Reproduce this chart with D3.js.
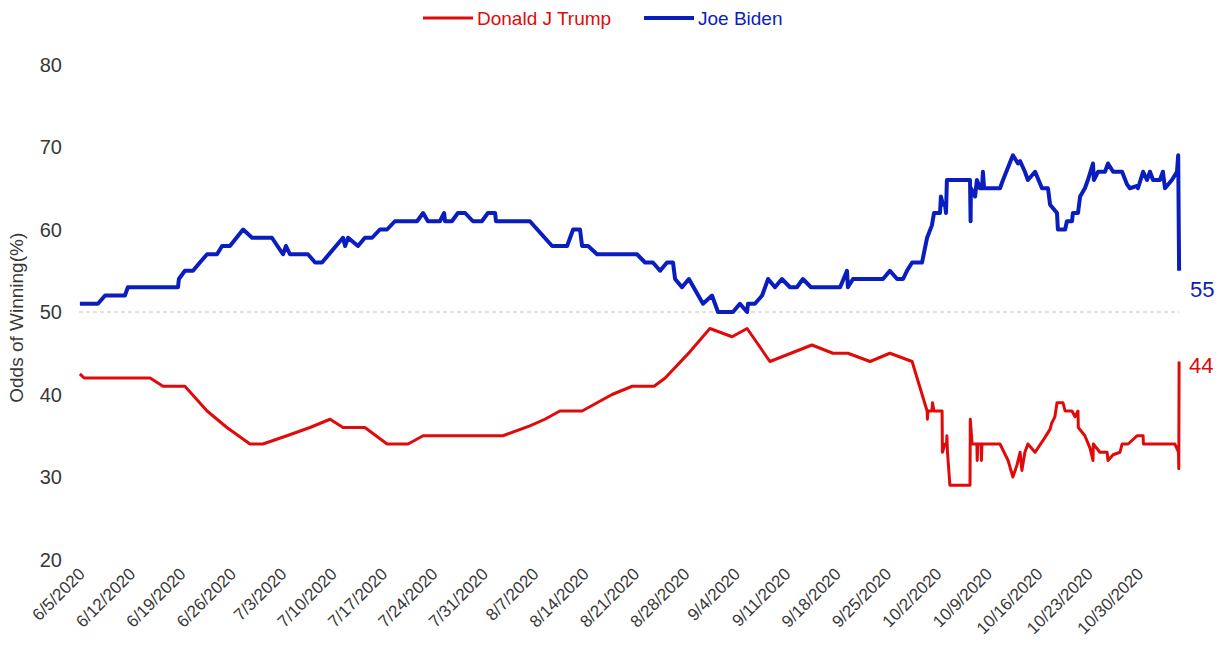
<!DOCTYPE html>
<html>
<head>
<meta charset="utf-8">
<script src="https://cdn.jsdelivr.net/npm/d3@7"></script>
<style>
  html, body { margin: 0; padding: 0; background: #fff; }
  svg { display: block; font-family: "Liberation Sans", Arial, sans-serif; }
</style>
</head>
<body>
<svg id="chart" width="1225" height="656"></svg>
<script>
// ---------------- DATA ----------------
const seriesNames = ["Donald J Trump", "Joe Biden"];
const seriesColors = ["#e00a0a", "#0a1ec0"];

const xTickLabels = ["6/5/2020","6/12/2020","6/19/2020","6/26/2020","7/3/2020","7/10/2020","7/17/2020",
  "7/24/2020","7/31/2020","8/7/2020","8/14/2020","8/21/2020","8/28/2020","9/4/2020","9/11/2020",
  "9/18/2020","9/25/2020","10/2/2020","10/9/2020","10/16/2020","10/23/2020","10/30/2020"];
const yTicks = [20, 30, 40, 50, 60, 70, 80];
const xDomain = ["6/5/2020", "11/5/2020"];
const yDomain = [20, 80];
const evenLine = 50;

const bidenTimes = [
  "2020-06-05 03","2020-06-07 15","2020-06-08 15","2020-06-11 09","2020-06-11 19","2020-06-18 18","2020-06-18 21","2020-06-19 17",
  "2020-06-20 20","2020-06-21 19","2020-06-22 19","2020-06-24 04","2020-06-24 21","2020-06-25 23","2020-06-27 19","2020-06-29 01",
  "2020-07-01 19","2020-07-03 08","2020-07-03 18","2020-07-04 07","2020-07-06 19","2020-07-07 19","2020-07-08 18","2020-07-11 16",
  "2020-07-11 23","2020-07-12 09","2020-07-13 18","2020-07-14 17","2020-07-15 17","2020-07-16 19","2020-07-17 19","2020-07-18 21",
  "2020-07-21 23","2020-07-22 19","2020-07-23 11","2020-07-25 03","2020-07-25 17","2020-07-25 20","2020-07-26 19","2020-07-27 15",
  "2020-07-28 15","2020-07-29 17","2020-07-30 23","2020-07-31 19",
  "2020-08-01 19","2020-08-01 22","2020-08-06 15","2020-08-09 17","2020-08-11 19","2020-08-12 15","2020-08-13 14","2020-08-13 21",
  "2020-08-14 17","2020-08-15 23","2020-08-21 12","2020-08-22 15","2020-08-23 17","2020-08-24 17","2020-08-25 16","2020-08-26 12",
  "2020-08-26 19","2020-08-27 18","2020-08-28 17","2020-08-30 16","2020-08-31 22",
  "2020-09-01 18","2020-09-03 20","2020-09-04 19","2020-09-05 19","2020-09-05 22","2020-09-06 21","2020-09-07 21","2020-09-08 17",
  "2020-09-09 16","2020-09-10 15","2020-09-11 18","2020-09-12 17","2020-09-13 13","2020-09-14 16","2020-09-18 17","2020-09-19 16",
  "2020-09-19 19","2020-09-20 12","2020-09-24 16","2020-09-25 15","2020-09-26 15","2020-09-27 11","2020-09-28 00","2020-09-28 17",
  "2020-09-30 02","2020-09-30 19",
  "2020-10-01 11","2020-10-01 18","2020-10-02 14","2020-10-02 17","2020-10-03 00","2020-10-03 07","2020-10-03 10","2020-10-03 13",
  "2020-10-06 18","2020-10-06 20","2020-10-06 21","2020-10-07 11","2020-10-07 17","2020-10-08 03","2020-10-08 10","2020-10-08 13",
  "2020-10-08 17","2020-10-10 22","2020-10-11 08","2020-10-12 17","2020-10-13 10","2020-10-13 17","2020-10-14 09","2020-10-14 19",
  "2020-10-15 19","2020-10-16 18","2020-10-17 14","2020-10-17 21","2020-10-18 20","2020-10-18 23","2020-10-19 23","2020-10-20 05",
  "2020-10-20 22","2020-10-21 01","2020-10-21 18","2020-10-22 01","2020-10-22 17","2020-10-23 03","2020-10-23 20","2020-10-23 23",
  "2020-10-24 13","2020-10-25 12","2020-10-25 22","2020-10-26 15","2020-10-27 21","2020-10-28 13","2020-10-28 23","2020-10-29 23",
  "2020-10-30 02","2020-10-30 19","2020-10-31 08","2020-10-31 18",
  "2020-11-01 04","2020-11-02 03","2020-11-02 13","2020-11-02 20","2020-11-03 19","2020-11-04 12","2020-11-04 16","2020-11-04 19"
];
const bidenValues = [
  51,51,52,52,53,53,54,55, 55,56,57,57,58,58,60,59,
  59,57,58,57,57,56,56,59, 58,59,58,59,59,60,60,61, 61,62,61,61,62,61,61,62, 62,61,61,62,
  62,61,61,58,58,60,60,58, 58,57,57,56,56,55,56,56, 54,53,54,51,52,
  50,50,51,50,51,51,52,54, 53,54,53,53,54,53,53,55, 53,54,54,55,54,54,55,56, 56,59,
  60.5,62,62,64,63,63,62,66, 66,61,65,64,66,65,65,67, 65,65,66,69,68,68.3,67,66, 67,65,65,63,62,60,60,61,
  61,62,62,64,65,66,68,66, 67,67,68,67,67,65.5,65,65.3, 65,67,66,67,
  66,66,67,65,66,67,69,55
];

const trumpTimes = [
  "2020-06-05 03","2020-06-05 17","2020-06-14 21","2020-06-16 16","2020-06-19 17","2020-06-22 19","2020-06-25 13","2020-06-28 18",
  "2020-06-30 13",
  "2020-07-03 21","2020-07-07 02","2020-07-09 21","2020-07-11 16","2020-07-14 17","2020-07-17 19","2020-07-20 17","2020-07-22 19",
  "2020-08-02 21","2020-08-06 15","2020-08-08 17","2020-08-10 19","2020-08-13 21","2020-08-18 01","2020-08-20 20","2020-08-23 21",
  "2020-08-25 10","2020-08-28 21","2020-08-31 15",
  "2020-09-03 17","2020-09-05 19","2020-09-08 23","2020-09-14 19","2020-09-17 17","2020-09-19 19","2020-09-22 21","2020-09-25 15",
  "2020-09-28 17","2020-09-30 19","2020-09-30 20","2020-09-30 22",
  "2020-10-01 11","2020-10-01 13","2020-10-01 18","2020-10-02 21","2020-10-02 22","2020-10-03 07","2020-10-03 12","2020-10-03 13",
  "2020-10-03 15","2020-10-03 23","2020-10-06 18","2020-10-06 19","2020-10-07 01","2020-10-07 17","2020-10-07 18","2020-10-07 20",
  "2020-10-08 07","2020-10-08 08","2020-10-08 10","2020-10-10 22","2020-10-12 01","2020-10-12 17","2020-10-13 07","2020-10-13 17",
  "2020-10-13 23","2020-10-14 09","2020-10-14 19","2020-10-15 19","2020-10-17 04","2020-10-17 21","2020-10-18 02","2020-10-18 13",
  "2020-10-18 20","2020-10-19 16","2020-10-19 23","2020-10-20 22","2020-10-21 08","2020-10-21 18","2020-10-21 19","2020-10-22 17",
  "2020-10-23 10","2020-10-23 20","2020-10-23 21","2020-10-24 19","2020-10-25 19","2020-10-25 22","2020-10-26 15","2020-10-27 14",
  "2020-10-27 21","2020-10-28 17","2020-10-29 23","2020-10-30 19","2020-10-30 20",
  "2020-11-04 05","2020-11-04 17","2020-11-04 18","2020-11-04 19"
];
const trumpValues = [
  42.5,42,42,41,41,38,36,34, 34,
  35,36,37,36,36,34,34,35,
  35,36.2,37,38,38,40,41,41, 42,45.2,48,
  47,48,44,46,45,45,44,45, 44,38,37,38,
  38,39,38,38,33,34,34,35, 33,29,29,37,34,34,32,34, 34,32,34,34,32,30,31.5,33,
  30.8,33,34,33,34.8,35.8,36.5,37.3, 39,39,38,38,37.3,38,36,35, 33.5,32,34,33,33,32,32.7,33,
  34,34,35,35,34,
  34,33,31,44
];

// ---------------- CHART ----------------
const svg = d3.select("#chart");
const parseT = d3.timeParse("%Y-%m-%d %H");
const parseD = d3.timeParse("%m/%d/%Y");

const x = d3.scaleTime().domain(xDomain.map(parseD)).range([79, 1180.6]);
const y = d3.scaleLinear().domain(yDomain).range([559.5, 64.5]);

const textColor = "#383838";

// y tick labels
svg.append("g").selectAll("text").data(yTicks).join("text")
  .attr("x", 62).attr("y", d => y(d)).attr("dy", "0.35em")
  .attr("text-anchor", "end").attr("font-size", 20).attr("fill", textColor)
  .text(d => d);

// y axis title
svg.append("text")
  .attr("transform", `translate(23, ${y(49.3)}) rotate(-90)`)
  .attr("text-anchor", "middle").attr("font-size", 19).attr("fill", textColor)
  .text("Odds of Winning(%)");

// x tick labels
svg.append("g").selectAll("text").data(xTickLabels).join("text")
  .attr("transform", d => `translate(${x(parseD(d)) + 7}, 575) rotate(-45)`)
  .attr("text-anchor", "end").attr("font-size", 17).attr("fill", textColor)
  .text(d => d);

// 50% reference line
svg.append("line")
  .attr("x1", x(parseD(xDomain[0]))).attr("x2", x(parseT(bidenTimes[bidenTimes.length - 1])))
  .attr("y1", y(evenLine)).attr("y2", y(evenLine))
  .attr("stroke", "#c4c4c4").attr("stroke-width", 1).attr("stroke-dasharray", "4,3");

const line = d3.line().x(d => x(d.t)).y(d => y(d.v));
const biden = bidenTimes.map((t, i) => ({ t: parseT(t), v: bidenValues[i] }));
const trump = trumpTimes.map((t, i) => ({ t: parseT(t), v: trumpValues[i] }));

svg.append("path").datum(trump).attr("d", line)
  .attr("fill", "none").attr("stroke", seriesColors[0]).attr("stroke-width", 3)
  .attr("stroke-linejoin", "round");
svg.append("path").datum(biden).attr("d", line)
  .attr("fill", "none").attr("stroke", seriesColors[1]).attr("stroke-width", 4)
  .attr("stroke-linejoin", "round");

// end labels
const lastB = biden[biden.length - 1], lastT = trump[trump.length - 1];
svg.append("text").attr("x", x(lastB.t) + 11).attr("y", y(lastB.v) + 26)
  .attr("font-size", 22).attr("fill", seriesColors[1]).text(lastB.v);
svg.append("text").attr("x", x(lastT.t) + 10).attr("y", y(lastT.v) + 11)
  .attr("font-size", 22).attr("fill", seriesColors[0]).text(lastT.v);

// legend
const legend = [
  { name: seriesNames[0], color: seriesColors[0], w: 3, x0: 423 },
  { name: seriesNames[1], color: seriesColors[1], w: 4, x0: 644 }
];
const lg = svg.append("g").selectAll("g").data(legend).join("g")
  .attr("transform", d => `translate(${d.x0}, 18)`);
lg.append("line").attr("x1", 0).attr("x2", 50).attr("y1", 0).attr("y2", 0)
  .attr("stroke", d => d.color).attr("stroke-width", d => d.w);
lg.append("text").attr("x", 54).attr("dy", "0.35em").attr("font-size", 19)
  .attr("fill", d => d.color).text(d => d.name);
</script>
</body>
</html>
